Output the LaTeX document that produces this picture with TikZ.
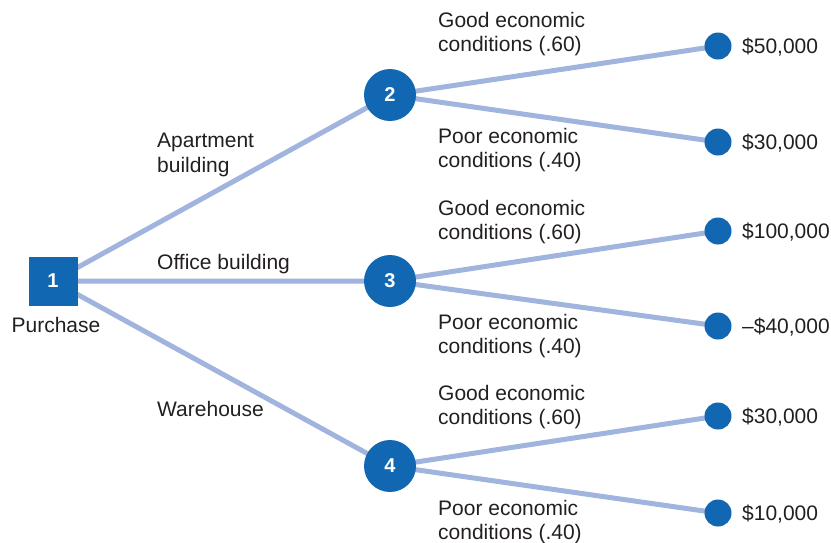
\documentclass[tikz,border=0pt]{standalone}
\usepackage{fontspec}
\setmainfont{Liberation Sans}
\usetikzlibrary{backgrounds}
\definecolor{dblue}{RGB}{17,103,177}
\definecolor{lblue}{RGB}{160,180,222}
\definecolor{txt}{RGB}{35,31,32}
\begin{document}
\begin{tikzpicture}[x=1pt,y=-1pt,
  every node/.style={font=\fontsize{21}{24.5}\selectfont, text=txt},
  sq/.style={fill=dblue, minimum size=49pt, inner sep=0pt, text=white, font=\fontsize{20}{24}\selectfont\bfseries},
  chance/.style={circle, fill=dblue, minimum size=52pt, inner sep=0pt, text=white, font=\fontsize{20}{24}\selectfont\bfseries},
  leaf/.style={circle, fill=dblue, minimum size=27pt, inner sep=0pt},
  lbl/.style={anchor=west, align=left, inner sep=0pt},
  edge/.style={draw=lblue, line width=5pt}]
\useasboundingbox (0,0) rectangle (831,542);
\node[sq] (n1) at (53,281) {1};
\node[chance] (n2) at (390,95) {2};
\node[chance] (n3) at (390,281) {3};
\node[chance] (n4) at (390,466) {4};
\node[leaf] (e1) at (718,46) {};
\node[leaf] (e2) at (718,142) {};
\node[leaf] (e3) at (718,231) {};
\node[leaf] (e4) at (718,326) {};
\node[leaf] (e5) at (718,416) {};
\node[leaf] (e6) at (718,513) {};
\begin{scope}[on background layer]
\path[edge] (n1.center) -- (n2.center) (n1.center) -- (n3.center) (n1.center) -- (n4.center)
  (n2.center) -- (e1.center) (n2.center) -- (e2.center)
  (n3.center) -- (e3.center) (n3.center) -- (e4.center)
  (n4.center) -- (e5.center) (n4.center) -- (e6.center);
\end{scope}
\node[inner sep=0pt] (pur) at (56,325) {Purchase};
\node[lbl] (la) at (157,155) {Apartment\\building};
\node[lbl] (lo) at (157,264) {Office building};
\node[lbl] (lw) at (157,409) {Warehouse};
\node[lbl] (g2) at (438,34) {Good economic\\conditions (.60)};
\node[lbl] (p2) at (438,150) {Poor economic\\conditions (.40)};
\node[lbl] (g3) at (438,222) {Good economic\\conditions (.60)};
\node[lbl] (p3) at (438,336) {Poor economic\\conditions (.40)};
\node[lbl] (g4) at (438,407) {Good economic\\conditions (.60)};
\node[lbl] (p4) at (438,522) {Poor economic\\conditions (.40)};
\node[lbl] (v1) at (742,47) {\$50,000};
\node[lbl] (v2) at (742,143) {\$30,000};
\node[lbl] (v3) at (742,232) {\$100,000};
\node[lbl] (v4) at (742,327) {–\$40,000};
\node[lbl] (v5) at (742,417) {\$30,000};
\node[lbl] (v6) at (742,514) {\$10,000};
\end{tikzpicture}
\end{document}
